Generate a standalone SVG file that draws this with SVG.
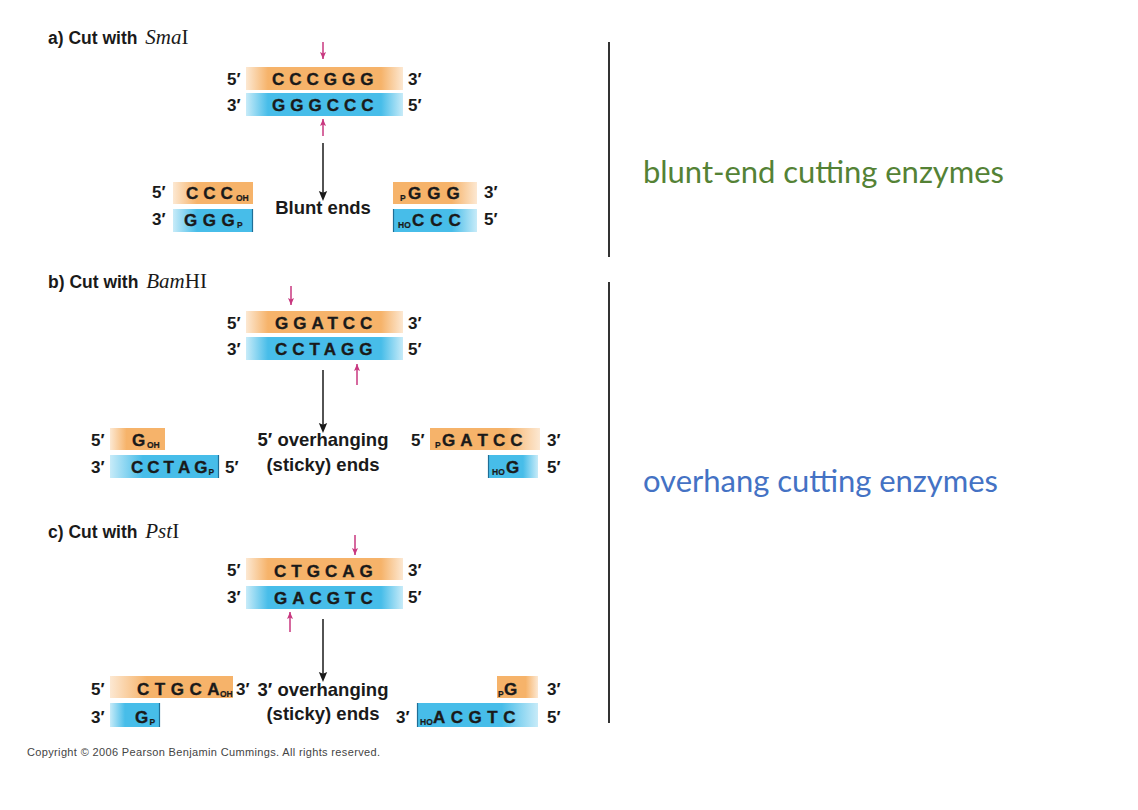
<svg xmlns="http://www.w3.org/2000/svg" width="1138" height="810" viewBox="0 0 1138 810">
<style>
.hdr{font-family:"Liberation Sans",Arial,sans-serif;font-weight:bold;font-size:17.5px;fill:#1a1a1a}
.ital{font-family:"Liberation Serif","Times New Roman",serif;font-style:italic;font-weight:normal;font-size:21px}
.rom{font-family:"Liberation Serif","Times New Roman",serif;font-weight:normal;font-size:21px}
.lbl{font-family:"Liberation Sans",Arial,sans-serif;font-weight:bold;font-size:17px;fill:#1a1a1a}
.seq{font-family:"Liberation Sans",Arial,sans-serif;font-weight:bold;font-size:17px;fill:#1a1a1a;stroke:#1a1a1a;stroke-width:0.35}
.sb{font-family:"Liberation Sans",Arial,sans-serif;font-weight:bold;font-size:8.5px;fill:#1a1a1a;stroke:#1a1a1a;stroke-width:0.2}
.mid{font-family:"Liberation Sans",Arial,sans-serif;font-weight:bold;font-size:18.5px;fill:#1a1a1a;text-anchor:middle}
.cut{stroke:#c8377f;stroke-width:1.5}
.flow{stroke:#1a1a1a;stroke-width:1.5}
.edge{stroke:#1f6e96;stroke-width:1.2}
.sep{stroke:#333;stroke-width:2}
</style>
<defs>
<linearGradient id="oB" x1="0" x2="1" y1="0" y2="0"><stop offset="0" stop-color="#f6b36a" stop-opacity="0.3"/><stop offset="0.14" stop-color="#f6b36a"/><stop offset="0.86" stop-color="#f6b36a"/><stop offset="1" stop-color="#f6b36a" stop-opacity="0.3"/></linearGradient>
<linearGradient id="bB" x1="0" x2="1" y1="0" y2="0"><stop offset="0" stop-color="#47bde9" stop-opacity="0.3"/><stop offset="0.14" stop-color="#47bde9"/><stop offset="0.86" stop-color="#47bde9"/><stop offset="1" stop-color="#47bde9" stop-opacity="0.3"/></linearGradient>
<linearGradient id="oL" x1="0" x2="1" y1="0" y2="0"><stop offset="0" stop-color="#f6b36a" stop-opacity="0.3"/><stop offset="0.3" stop-color="#f6b36a"/><stop offset="1" stop-color="#f6b36a"/></linearGradient>
<linearGradient id="oR" x1="0" x2="1" y1="0" y2="0"><stop offset="0" stop-color="#f6b36a"/><stop offset="0.7" stop-color="#f6b36a"/><stop offset="1" stop-color="#f6b36a" stop-opacity="0.3"/></linearGradient>
<linearGradient id="bL" x1="0" x2="1" y1="0" y2="0"><stop offset="0" stop-color="#47bde9" stop-opacity="0.3"/><stop offset="0.3" stop-color="#47bde9"/><stop offset="1" stop-color="#47bde9"/></linearGradient>
<linearGradient id="bR" x1="0" x2="1" y1="0" y2="0"><stop offset="0" stop-color="#47bde9"/><stop offset="0.7" stop-color="#47bde9"/><stop offset="1" stop-color="#47bde9" stop-opacity="0.3"/></linearGradient>
<marker id="bh" markerUnits="userSpaceOnUse" markerWidth="10" markerHeight="12" refX="6" refY="5" orient="auto" viewBox="0 0 12 10"><path d="M0,0 L2,5 L0,10 L12,5 Z" fill="#1a1a1a"/></marker>
<marker id="mk" markerUnits="userSpaceOnUse" markerWidth="7" markerHeight="6" refX="7" refY="3" orient="auto" viewBox="0 0 7 6"><path d="M0,0 L1.5,3 L0,6 L7,3 Z" fill="#c8377f"/></marker>
</defs>
<rect width="1138" height="810" fill="#fff"/>

<g id="panel-a">
<text class="hdr" x="48" y="44">a) Cut with <tspan class="ital" dx="3">Sma</tspan><tspan class="rom">I</tspan></text>
<g id="a-duplex">
<rect x="246" y="67" width="157" height="23" fill="url(#oB)"/>
<rect x="246" y="93" width="157" height="23" fill="url(#bB)"/>
<text class="lbl" x="227" y="85">5′</text><text class="lbl" x="408" y="85">3′</text>
<text class="lbl" x="227" y="111">3′</text><text class="lbl" x="408" y="111">5′</text>
<text class="seq" x="272" y="85" letter-spacing="5">CCCGGG</text>
<text class="seq" x="272" y="111" letter-spacing="5">GGGCCC</text>
</g>
<g id="a-left">
<rect x="173" y="182" width="80" height="22" fill="url(#oL)"/>
<rect x="173" y="209" width="80" height="23" fill="url(#bL)"/>
<line class="edge" x1="252.5" y1="209" x2="252.5" y2="232"/>
<text class="lbl" x="152" y="198">5′</text><text class="lbl" x="152" y="225">3′</text>
<text class="seq" x="186 203.3 220.6" y="199">CCC</text><text class="sb" x="236" y="201">OH</text>
<text class="seq" x="184 202.7 221.4" y="226">GGG</text><text class="sb" x="237" y="228">P</text>
</g>
<text class="mid" x="323" y="214">Blunt ends</text>
<g id="a-right">
<rect x="393" y="182" width="84" height="22" fill="url(#oR)"/>
<rect x="393" y="209" width="84" height="23" fill="url(#bR)"/>
<line class="edge" x1="393.5" y1="209" x2="393.5" y2="232"/>
<text class="lbl" x="484" y="198">3′</text><text class="lbl" x="484" y="225">5′</text>
<text class="sb" x="400" y="201">P</text><text class="seq" x="408 427.2 446.4" y="199">GGG</text>
<text class="sb" x="398" y="228">HO</text><text class="seq" x="412 430.3 448.6" y="226">CCC</text>
</g>
</g>

<g id="panel-b">
<text class="hdr" x="48" y="288">b) Cut with <tspan class="ital" dx="3">Bam</tspan><tspan class="rom">HI</tspan></text>
<g id="b-duplex">
<rect x="246" y="311" width="157" height="22" fill="url(#oB)"/>
<rect x="246" y="337" width="157" height="23" fill="url(#bB)"/>
<text class="lbl" x="227" y="329">5′</text><text class="lbl" x="408" y="329">3′</text>
<text class="lbl" x="227" y="355">3′</text><text class="lbl" x="408" y="355">5′</text>
<text class="seq" x="275" y="329" letter-spacing="5">GGATCC</text>
<text class="seq" x="275" y="355" letter-spacing="5">CCTAGG</text>
</g>
<g id="b-left">
<rect x="110" y="428" width="55" height="22" fill="url(#oL)"/>
<rect x="110" y="455" width="109" height="23" fill="url(#bL)"/>
<line class="edge" x1="218.5" y1="455" x2="218.5" y2="478"/>
<text class="lbl" x="91" y="446">5′</text><text class="lbl" x="91" y="473">3′</text>
<text class="lbl" x="225" y="473">5′</text>
<text class="seq" x="132" y="446">G</text><text class="sb" x="147" y="448">OH</text>
<text class="seq" x="131 147.3 163.6 178 194.3" y="473">CCTAG</text><text class="sb" x="208.5" y="475">P</text>
</g>
<text class="mid" x="323" y="446">5′ overhanging</text>
<text class="mid" x="323" y="471">(sticky) ends</text>
<g id="b-right">
<rect x="430" y="428" width="110" height="22" fill="url(#oR)"/>
<rect x="488" y="455" width="50" height="23" fill="url(#bR)"/>
<line class="edge" x1="488.5" y1="455" x2="488.5" y2="478"/>
<text class="lbl" x="411" y="446">5′</text>
<text class="lbl" x="547" y="446">3′</text><text class="lbl" x="547" y="473">5′</text>
<text class="sb" x="435" y="448">P</text><text class="seq" x="442 460.2 477.5 492.9 510.2" y="446">GATCC</text>
<text class="sb" x="492" y="475">HO</text><text class="seq" x="506" y="473">G</text>
</g>
</g>

<g id="panel-c">
<text class="hdr" x="48" y="538">c) Cut with <tspan class="ital" dx="3">Pst</tspan><tspan class="rom">I</tspan></text>
<g id="c-duplex">
<rect x="246" y="558" width="157" height="22" fill="url(#oB)"/>
<rect x="246" y="586" width="157" height="23" fill="url(#bB)"/>
<text class="lbl" x="227" y="576">5′</text><text class="lbl" x="408" y="576">3′</text>
<text class="lbl" x="227" y="603">3′</text><text class="lbl" x="408" y="603">5′</text>
<text class="seq" x="274" y="577" letter-spacing="5">CTGCAG</text>
<text class="seq" x="274" y="604" letter-spacing="5">GACGTC</text>
</g>
<g id="c-left">
<rect x="110" y="676" width="123" height="22" fill="url(#oL)"/>
<rect x="110" y="703" width="50" height="24" fill="url(#bL)"/>
<line class="edge" x1="159.5" y1="703" x2="159.5" y2="727"/>
<text class="lbl" x="91" y="695">5′</text><text class="lbl" x="91" y="723">3′</text>
<text class="lbl" x="236" y="695">3′</text>
<text class="seq" x="137 154.8 170.7 189.4 207.2" y="695">CTGCA</text><text class="sb" x="220" y="697">OH</text>
<text class="seq" x="135" y="723">G</text><text class="sb" x="149.5" y="725">P</text>
</g>
<text class="mid" x="323" y="696">3′ overhanging</text>
<text class="mid" x="323" y="720">(sticky) ends</text>
<g id="c-right">
<rect x="497" y="676" width="41" height="22" fill="url(#oR)"/>
<rect x="417" y="703" width="121" height="24" fill="url(#bR)"/>
<line class="edge" x1="417.5" y1="703" x2="417.5" y2="727"/>
<text class="lbl" x="396" y="723">3′</text>
<text class="lbl" x="547" y="695">3′</text><text class="lbl" x="547" y="723">5′</text>
<text class="sb" x="498" y="697">P</text><text class="seq" x="504" y="695">G</text>
<text class="sb" x="420" y="725">HO</text><text class="seq" x="433 450.8 468.6 487.3 503.2" y="723">ACGTC</text>
</g>
</g>

<g id="connectors">
<line class="cut" x1="323" y1="42" x2="323" y2="59" marker-end="url(#mk)"/>
<line class="cut" x1="323" y1="136" x2="323" y2="119" marker-end="url(#mk)"/>
<line class="flow" x1="323" y1="143" x2="323" y2="196" marker-end="url(#bh)"/>
<line class="cut" x1="291" y1="286" x2="291" y2="305" marker-end="url(#mk)"/>
<line class="cut" x1="357" y1="385" x2="357" y2="364" marker-end="url(#mk)"/>
<line class="flow" x1="323" y1="370" x2="323" y2="428" marker-end="url(#bh)"/>
<line class="cut" x1="355" y1="535" x2="355" y2="555" marker-end="url(#mk)"/>
<line class="cut" x1="290" y1="632" x2="290" y2="612" marker-end="url(#mk)"/>
<line class="flow" x1="323" y1="619" x2="323" y2="677" marker-end="url(#bh)"/>
</g>

<g id="side">
<line class="sep" x1="609" y1="42" x2="609" y2="257"/>
<line class="sep" x1="609" y1="282" x2="609" y2="723"/>
<text x="643" y="183" font-family="Lato,'Open Sans',sans-serif" font-size="31" fill="#548235" textLength="361">blunt-end cutting enzymes</text>
<text x="643" y="492" font-family="Lato,'Open Sans',sans-serif" font-size="31" fill="#4472c4" textLength="355">overhang cutting enzymes</text>
</g>
<text x="27" y="756" font-family="'Liberation Sans',Arial,sans-serif" font-size="11" fill="#444" textLength="353">Copyright © 2006 Pearson Benjamin Cummings. All rights reserved.</text>
</svg>
